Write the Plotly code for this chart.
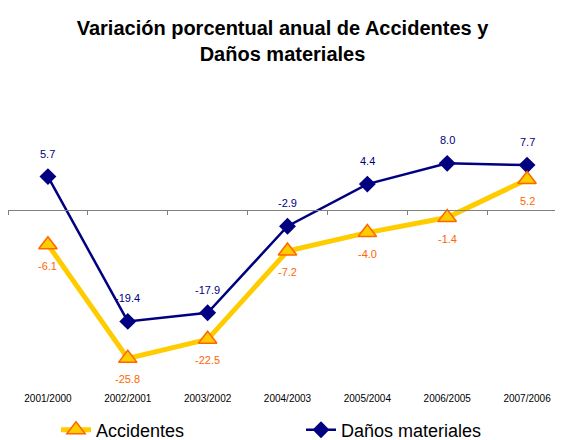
import plotly.graph_objects as go

categories = ["2001/2000", "2002/2001", "2003/2002", "2004/2003", "2005/2004", "2006/2005", "2007/2006"]
accidentes = [-6.1, -25.8, -22.5, -7.2, -4.0, -1.4, 5.2]
danos = [5.7, -19.4, -17.9, -2.9, 4.4, 8.0, 7.7]

# the page body adds an 8px margin, so the figure is 8px smaller each way
W, H = 555, 432
ML, MR, MT, MB = 0, 0, 92, 49
ymin, ymax = -31.46, 18.98
zero_pos = (0 - ymin) / (ymax - ymin)
FONT = "Liberation Sans, Arial"

fig = go.Figure()
fig.add_trace(go.Scatter(
    x=categories, y=accidentes, name="Accidentes", mode="lines+markers",
    xaxis="x2", yaxis="y",
    line=dict(color="#FFCC00", width=5),
    marker=dict(symbol="triangle-up", size=16, color="#FFCC00",
                line=dict(color="#FF6600", width=1.5)),
    hoverinfo="x+y",
))
fig.add_trace(go.Scatter(
    x=categories, y=danos, name="Daños materiales", mode="lines+markers",
    xaxis="x", yaxis="y",
    line=dict(color="#000080", width=2.5),
    marker=dict(symbol="diamond", size=13, color="#000080"),
    hoverinfo="x+y",
))

annotations = []
for c, v in zip(categories, accidentes):
    annotations.append(dict(x=c, y=v, xref="x", yref="y", text=f"{v:.1f}",
                            showarrow=False, yshift=-21,
                            font=dict(family=FONT, size=11, color="#FF6600")))
for c, v in zip(categories, danos):
    annotations.append(dict(x=c, y=v, xref="x", yref="y", text=f"{v:.1f}",
                            showarrow=False, yshift=23,
                            font=dict(family=FONT, size=11, color="#000080")))

fig.update_layout(
    width=W, height=H,
    margin=dict(l=ML, r=MR, t=MT, b=MB, autoexpand=False),
    paper_bgcolor="white", plot_bgcolor="white",
    font=dict(family=FONT, color="black"),
    title=dict(text="<b>Variación porcentual anual de Accidentes y<br>Daños materiales</b>",
               x=(282.5 - 8) / W, xref="container", xanchor="center",
               y=1 - 27 / H, yref="container", yanchor="top",
               font=dict(family=FONT, size=20, color="black")),
    xaxis=dict(type="category", categoryorder="array", categoryarray=categories,
               range=[-0.5, 6.45], anchor="free", position=zero_pos,
               showline=True, linecolor="#808080", linewidth=1,
               ticks="outside", tickson="boundaries", ticklen=4, tickcolor="#808080",
               showticklabels=False, showgrid=False, zeroline=False, fixedrange=True),
    xaxis2=dict(type="category", categoryorder="array", categoryarray=categories,
                range=[-0.5, 6.45], overlaying="x", anchor="y", side="bottom",
                showline=False, ticks="", showgrid=False, zeroline=False,
                tickfont=dict(family=FONT, size=10, color="black")),
    yaxis=dict(range=[ymin, ymax], visible=False, showgrid=False, zeroline=False),
    annotations=annotations,
    showlegend=True,
    legend=dict(orientation="h", xref="container", yref="container",
                x=48 / W, y=(H - 422) / H, xanchor="left", yanchor="middle",
                entrywidth=200, entrywidthmode="pixels",
                font=dict(family=FONT, size=18, color="black"),
                bgcolor="rgba(0,0,0,0)"),
)

fig.write_html("out.html")
